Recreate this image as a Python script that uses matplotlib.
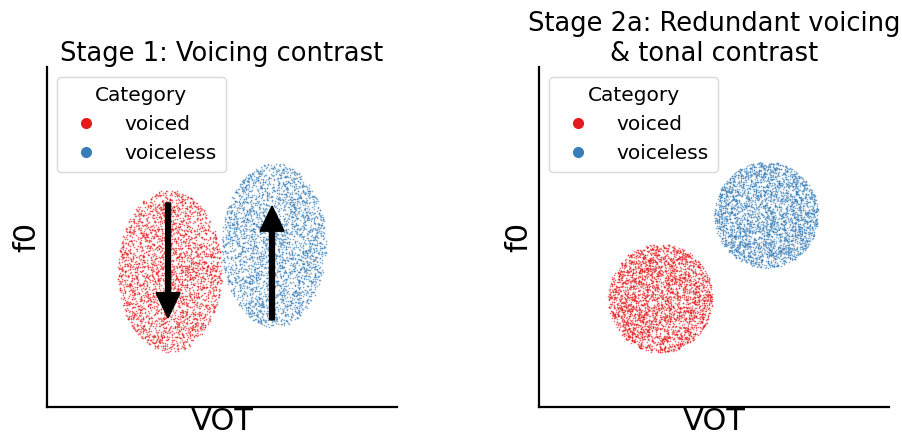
import numpy as np
import matplotlib.pyplot as plt
from matplotlib.lines import Line2D

# cluster layout in normalised VOT / f0 units
categories = ["voiced", "voiceless"]
colors = ["#e41a1c", "#377eb8"]
n_tokens = 3000

stage1_centers = [(0.351, 0.400), (0.649, 0.476)]
stage1_radii = [(0.149, 0.238), (0.149, 0.241)]
stage1_arrows = [(0.346, 0.600, 0.262), (0.643, 0.256, 0.591)]  # x, y start, y end

stage2_centers = [(0.346, 0.320), (0.649, 0.565)]
stage2_radii = [(0.149, 0.160), (0.149, 0.156)]

rng = np.random.default_rng(3)


def sample_ellipse(center, radii, n):
    r = np.sqrt(rng.uniform(0, 1, n))
    th = rng.uniform(0, 2 * np.pi, n)
    return center[0] + radii[0] * r * np.cos(th), center[1] + radii[1] * r * np.sin(th)


def draw_panel(ax, centers, radii, title):
    for cat, col, c, rad in zip(categories, colors, centers, radii):
        x, y = sample_ellipse(c, rad, n_tokens)
        ax.scatter(x, y, s=1.4, color=col, linewidths=0, alpha=0.65, label=cat)
    ax.set_xlim(0, 1)
    ax.set_ylim(0, 1)
    ax.set_xticks([])
    ax.set_yticks([])
    for side in ["top", "right"]:
        ax.spines[side].set_visible(False)
    for side in ["left", "bottom"]:
        ax.spines[side].set_linewidth(1.6)
    ax.set_xlabel("VOT", fontsize=22, labelpad=0)
    ax.set_ylabel("f0", fontsize=22, labelpad=4)
    ax.set_title(title, fontsize=18.5, pad=2)
    handles = [Line2D([], [], marker="o", ls="", color=col, markersize=7, label=cat)
               for cat, col in zip(categories, colors)]
    leg = ax.legend(handles=handles, title="Category", loc="upper left",
                    fontsize=14.5, title_fontsize=14.5, frameon=True,
                    borderaxespad=0.5, handletextpad=0.9, labelspacing=0.5,
                    borderpad=0.45)
    leg.get_frame().set_edgecolor("#d0d0d0")


fig = plt.figure(figsize=(9.03, 4.36), dpi=100)
ax1 = fig.add_axes([0.052, 0.0665, 0.3876, 0.780])
ax2 = fig.add_axes([0.597, 0.0665, 0.3876, 0.780])

draw_panel(ax1, stage1_centers, stage1_radii, "Stage 1: Voicing contrast")
for x, y0, y1 in stage1_arrows:
    ax1.arrow(x, y0, 0, y1 - y0, width=0.014, head_width=0.069, head_length=0.074,
              length_includes_head=True, color="black", zorder=5)

draw_panel(ax2, stage2_centers, stage2_radii, "Stage 2a: Redundant voicing\n& tonal contrast")

fig.savefig("out.png", dpi=100)
